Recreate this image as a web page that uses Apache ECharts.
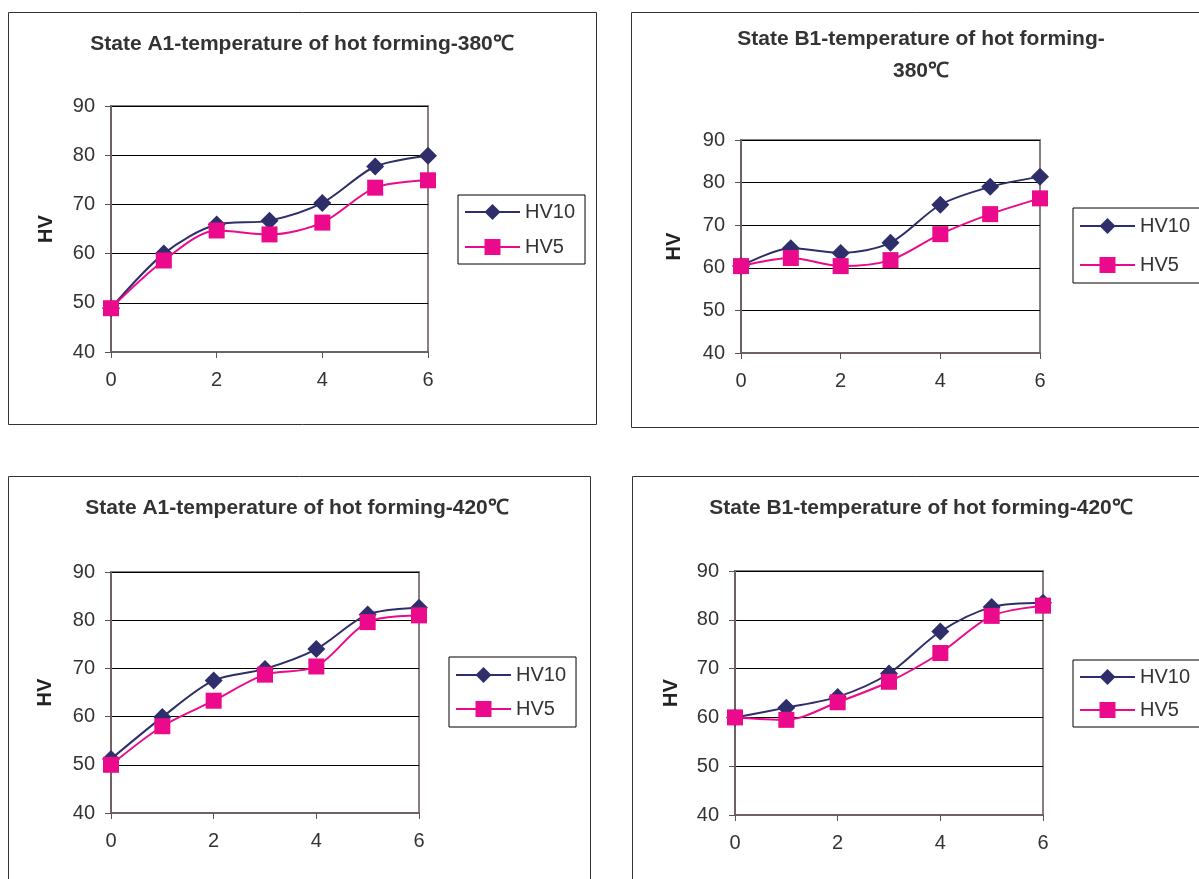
<!DOCTYPE html>
<html>
<head>
<meta charset="utf-8">
<script src="https://cdn.jsdelivr.net/npm/echarts@6/dist/echarts.min.js"></script>
<style>
html,body{margin:0;padding:0;background:#fff;}
#main{width:1199px;height:879px;}
</style>
</head>
<body>
<div id="main"></div>
<script>
// ---- data ----
const xValues = [0, 1, 2, 3, 4, 5, 6];
const xTicks = [0, 2, 4, 6];
const yTicks = [40, 50, 60, 70, 80, 90];
const seriesNames = ['HV10', 'HV5'];
const titles = [
  'State A1-temperature of hot forming-380℃',
  'State B1-temperature of hot forming-\n380℃',
  'State A1-temperature of hot forming-420℃',
  'State B1-temperature of hot forming-420℃'
];
const a1_380_HV10 = [48.9, 60.0, 65.9, 66.7, 70.3, 77.7, 79.9];
const a1_380_HV5  = [48.9, 58.6, 64.7, 63.9, 66.3, 73.4, 74.9];
const b1_380_HV10 = [60.4, 64.6, 63.5, 65.9, 74.8, 79.0, 81.4];
const b1_380_HV5  = [60.4, 62.3, 60.4, 61.8, 67.9, 72.6, 76.3];
const a1_420_HV10 = [51.2, 59.9, 67.5, 69.9, 74.0, 81.2, 82.6];
const a1_420_HV5  = [50.0, 58.0, 63.3, 68.7, 70.4, 79.6, 81.0];
const b1_420_HV10 = [60.0, 62.0, 64.2, 69.0, 77.6, 82.6, 83.5];
const b1_420_HV5  = [60.0, 59.5, 63.1, 67.3, 73.2, 80.8, 82.9];
const chartValues = [
  [a1_380_HV10, a1_380_HV5],
  [b1_380_HV10, b1_380_HV5],
  [a1_420_HV10, a1_420_HV5],
  [b1_420_HV10, b1_420_HV5]
];

// ---- layout ----
const grids = [
  {left: 111, top: 106, width: 317, height: 246},
  {left: 741, top: 140, width: 299, height: 213},
  {left: 111, top: 572, width: 308, height: 241},
  {left: 735, top: 571, width: 308, height: 244}
];
const titlePos = [
  {left: 302, top: 28},
  {left: 921, top: 23},
  {left: 297, top: 492},
  {left: 921, top: 492}
];
const legendPos = [
  {left: 458, top: 195, gap: 15, pad: 7},
  {left: 1073, top: 208, gap: 19, pad: 8},
  {left: 449, top: 657, gap: 14, pad: 8},
  {left: 1073, top: 660, gap: 13, pad: 7}
];
const boxes = [
  {x: 8.5, y: 12.5, w: 588, h: 412},
  {x: 631.5, y: 12.5, w: 600, h: 415},
  {x: 8.5, y: 476.5, w: 582, h: 450},
  {x: 632.5, y: 476.5, w: 600, h: 450}
];
const nameGaps = [55, 57, 56, 54];

const colors = ['#2E2E6A', '#EC0A8C'];
const symbols = ['diamond', 'rect'];
const symbolSizes = [18, 16];
const font = 'Liberation Sans, Arial, sans-serif';

const chart = echarts.init(document.getElementById('main'));

const option = {
  backgroundColor: '#fff',
  animation: false,
  textStyle: {fontFamily: font},
  title: titles.map((t, i) => ({
    text: t,
    left: titlePos[i].left,
    top: titlePos[i].top,
    textAlign: 'center',
    padding: 0,
    textStyle: {fontFamily: font, fontSize: 21, fontWeight: 'bold', color: '#333', lineHeight: 32}
  })),
  legend: legendPos.map((p, i) => ({
    data: seriesNames,
    orient: 'vertical',
    left: p.left,
    top: p.top,
    itemWidth: 55,
    itemHeight: 20,
    itemGap: p.gap,
    padding: [p.pad, 10, p.pad, 6],
    borderColor: '#000',
    borderWidth: 1,
    borderRadius: 0,
    selectedMode: false,
    textStyle: {fontFamily: font, fontSize: 20, color: '#333'}
  })),
  grid: grids.map(g => ({
    left: g.left, top: g.top, width: g.width, height: g.height,
    show: true, borderColor: '#8a7e7e', borderWidth: 2, backgroundColor: '#fff'
  })),
  xAxis: grids.map((g, i) => ({
    type: 'value', gridIndex: i,
    min: xTicks[0], max: xTicks[xTicks.length - 1], interval: xTicks[1] - xTicks[0],
    axisLine: {show: true, lineStyle: {color: '#6e6262', width: 2}},
    axisTick: {show: true, length: 6, inside: false, lineStyle: {color: '#555', width: 1}},
    axisLabel: {margin: 18, fontFamily: font, fontSize: 20, color: '#333'},
    splitLine: {show: false}
  })),
  yAxis: grids.map((g, i) => ({
    type: 'value', gridIndex: i,
    min: yTicks[0], max: yTicks[yTicks.length - 1], interval: yTicks[1] - yTicks[0],
    name: 'HV', nameLocation: 'middle', nameGap: nameGaps[i], nameRotate: 90,
    nameTextStyle: {fontFamily: font, fontSize: 20, fontWeight: 'bold', color: '#222'},
    axisLine: {show: true, lineStyle: {color: '#6e6262', width: 2}},
    axisTick: {show: true, length: 6, inside: false, lineStyle: {color: '#555', width: 1}},
    axisLabel: {margin: 16, fontFamily: font, fontSize: 20, color: '#333'},
    splitLine: {show: true, lineStyle: {color: '#000', width: 1}}
  })),
  series: [],
  graphic: boxes.map(b => ({
    type: 'rect', silent: true, z: -10,
    shape: {x: b.x, y: b.y, width: b.w, height: b.h},
    style: {fill: 'none', stroke: '#333', lineWidth: 1}
  }))
};

chartValues.forEach((pair, ci) => {
  pair.forEach((vals, si) => {
    option.series.push({
      name: seriesNames[si],
      type: 'line',
      xAxisIndex: ci,
      yAxisIndex: ci,
      smooth: 0.3,
      data: xValues.map((x, k) => [x, vals[k]]),
      symbol: symbols[si],
      symbolSize: symbolSizes[si],
      showAllSymbol: true,
      clip: false,
      z: si === 0 ? 3 : 4,
      lineStyle: {color: colors[si], width: 2},
      itemStyle: {color: colors[si], borderWidth: 0}
    });
  });
});

chart.setOption(option);
</script>
</body>
</html>
